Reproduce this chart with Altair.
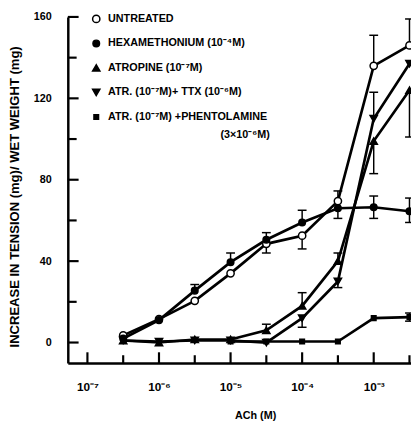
import altair as alt
import pandas as pd

# ---- data ----
conc = [3.16e-7, 1e-6, 3.16e-6, 1e-5, 3.16e-5, 1e-4, 3.16e-4, 1e-3, 3.16e-3]
untreated = [3.5, 11.5, 20.5, 34, 48.5, 52.5, 69.5, 136, 146]
hexamethonium = [2, 11, 25.5, 39.5, 50.5, 59, 66, 66.5, 64.5]
atropine = [1, 0, 1.5, 1.5, 6, 18, 40, 99, 124]
atr_ttx = [1, 0.5, 1, 1, 0, 12, 30, 110, 137]
atr_phent = [None, None, None, 0.5, 0.5, 0.5, 0.5, 12, 12.5]

series_keys = ["untreated", "hexa", "atropine", "ttx", "phent"]
series_vals = [untreated, hexamethonium, atropine, atr_ttx, atr_phent]
legend_labels = [
    "UNTREATED",
    "HEXAMETHONIUM (10\u207b\u2074M)",
    "ATROPINE (10\u207b\u2077M)",
    "ATR. (10\u207b\u2077M)+ TTX (10\u207b\u2076M)",
    "ATR. (10\u207b\u2077M) +PHENTOLAMINE",
]
legend_line2 = "(3\u00d710\u207b\u2076M)"
shapes = ["circle", "circle", "triangle-up", "triangle-down", "square"]
fills = ["white", "black", "black", "black", "black"]
sizes = [55, 45, 55, 55, 22]

err_series = ["untreated"] * 5 + ["hexa"] * 7 + ["atropine"] * 5 + ["ttx"] * 3 + ["phent"]
err_conc = [3.16e-5, 1e-4, 3.16e-4, 1e-3, 3.16e-3,
            3.16e-6, 1e-5, 3.16e-5, 1e-4, 3.16e-4, 1e-3, 3.16e-3,
            3.16e-5, 1e-4, 3.16e-4, 1e-3, 3.16e-3,
            1e-4, 3.16e-4, 1e-3,
            3.16e-3]
err_lo = [44, 46, 69.5, 136, 146,
          25.5, 39.5, 50.5, 59, 61, 61, 59,
          6, 18, 40, 83, 101,
          7.5, 27, 110,
          10.5]
err_hi = [48.5, 52.5, 74.5, 151, 159,
          28.5, 44, 54, 65, 66, 72, 71,
          9, 24.5, 44, 99, 124,
          12, 30, 123,
          14.5]

y_ticks = [0, 20, 40, 60, 80, 100, 120, 140, 160]
y_labels = [0, 40, 80, 120, 160]
x_ticks = [1e-7, 3.16e-7, 1e-6, 3.16e-6, 1e-5, 3.16e-5, 1e-4, 3.16e-4, 1e-3, 3.16e-3]
x_label_vals = [1e-7, 1e-6, 1e-5, 1e-4, 1e-3]
x_label_text = ["10\u207b\u2077", "10\u207b\u2076", "10\u207b\u2075", "10\u207b\u2074", "10\u207b\u00b3"]

W, H = 350, 353
FONT = "Liberation Sans"
X_LO, X_HI = 10 ** -7.274, 10 ** -2.479
Y_LO, Y_HI = -10.1, 160

rows = []
for key, vals in zip(series_keys, series_vals):
    for c, v in zip(conc, vals):
        if v is not None:
            rows.append({"series": key, "conc": c, "val": v})
df = pd.DataFrame(rows)

val_lookup = {(r["series"], r["conc"]): r["val"] for r in rows}
seg_rows, cap_rows = [], []
for s, c, lo, hi in zip(err_series, err_conc, err_lo, err_hi):
    seg_rows.append({"conc": c, "lo": lo, "hi": hi})
    v = val_lookup.get((s, c))
    if v is None or hi > v + 0.5:
        cap_rows.append({"conc": c, "y": hi})
    if v is None or lo < v - 0.5:
        cap_rows.append({"conc": c, "y": lo})
seg_df = pd.DataFrame(seg_rows)
cap_df = pd.DataFrame(cap_rows)

xmaj = pd.DataFrame({"c": [c for c in x_ticks if c in x_label_vals]})
xmin = pd.DataFrame({"c": [c for c in x_ticks if c not in x_label_vals]})
ymaj = pd.DataFrame({"v": [v for v in y_ticks if v in y_labels]})
ymin = pd.DataFrame({"v": [v for v in y_ticks if v not in y_labels]})

label_expr = "".join(
    f"datum.value < {v * 3:.3g} ? '{t}' : " for v, t in zip(x_label_vals, x_label_text)
) + "''"

xscale = alt.Scale(type="log", domain=[X_LO, X_HI], nice=False)
yscale = alt.Scale(domain=[Y_LO, Y_HI], nice=False, zero=False)

X = alt.X("conc:Q", scale=xscale,
          axis=alt.Axis(values=x_label_vals, labelExpr=label_expr, ticks=False,
                        grid=False, labelPadding=19, labelFont=FONT, labelFontWeight="bold",
                        labelFontSize=12, labelColor="black", labelFlush=False,
                        domainColor="black", domainWidth=2.5,
                        title="ACh (M)", titleFont=FONT, titleFontWeight="bold",
                        titleFontSize=11, titleColor="black", titleX=191, titleY=54,
                        titleBaseline="middle"))
Y = alt.Y("val:Q", scale=yscale,
          axis=alt.Axis(values=y_labels, ticks=False, grid=False,
                        labelPadding=17, labelFont=FONT, labelFontWeight="bold",
                        labelFontSize=11, labelColor="black", labelFlush=False,
                        domainColor="black", domainWidth=2.5,
                        title="INCREASE IN TENSION (mg)/ WET WEIGHT (mg)",
                        titleFont=FONT, titleFontWeight="bold", titleFontSize=13.3,
                        titleColor="black", titleX=-54, titleY=183, titleAngle=-90,
                        titleBaseline="middle", titleAlign="center"))

TICK_COLOR = "black"

def xtick_layer(d, n):
    return alt.Chart(d).mark_rule(color=TICK_COLOR, strokeWidth=2.2).encode(
        x=alt.X("c:Q", scale=xscale), y=alt.value(H), y2=alt.value(H - n))

def ytick_layer(d, n):
    return alt.Chart(d).mark_rule(color=TICK_COLOR, strokeWidth=2.2).encode(
        y=alt.Y("v:Q", scale=yscale), x=alt.value(0), x2=alt.value(n))

tick_layers = [xtick_layer(xmaj, 11), xtick_layer(xmin, 8),
               ytick_layer(ymaj, 11), ytick_layer(ymin, 9)]

lines = alt.Chart(df).mark_line(color="black", strokeWidth=2.7).encode(
    x=X, y=Y, detail="series:N")
segs = alt.Chart(seg_df).mark_rule(color="black", strokeWidth=1.5).encode(
    x=alt.X("conc:Q", scale=xscale), y=alt.Y("lo:Q", scale=yscale), y2="hi:Q")
caps = alt.Chart(cap_df).mark_tick(color="black", orient="horizontal", size=9,
                                   thickness=1.5, opacity=1).encode(
    x=alt.X("conc:Q", scale=xscale), y=alt.Y("y:Q", scale=yscale))

point_layers = []
for key, shp, fl, sz in zip(series_keys, shapes, fills, sizes):
    point_layers.append(
        alt.Chart(df[df.series == key]).mark_point(
            shape=shp, filled=True, fill=fl, stroke="black", strokeWidth=1.5,
            size=sz, opacity=1).encode(x=alt.X("conc:Q", scale=xscale),
                                       y=alt.Y("val:Q", scale=yscale)))

leg_y = [2, 27, 52, 77, 102]
legend_layers = []
for lbl, shp, fl, sz, ly in zip(legend_labels, shapes, fills, sizes, leg_y):
    ldf = pd.DataFrame({"label": [lbl]})
    legend_layers.append(alt.Chart(ldf).mark_point(
        shape=shp, filled=True, fill=fl, stroke="black", strokeWidth=1.5, size=sz,
        opacity=1).encode(x=alt.value(29), y=alt.value(ly)))
    legend_layers.append(alt.Chart(ldf).mark_text(
        align="left", baseline="middle", font=FONT, fontWeight="bold", fontSize=11,
        color="black").encode(x=alt.value(41), y=alt.value(ly), text="label:N"))
legend_layers.append(alt.Chart(pd.DataFrame({"label": [legend_line2]})).mark_text(
    align="right", baseline="middle", font=FONT, fontWeight="bold", fontSize=11,
    color="black").encode(x=alt.value(206), y=alt.value(120), text="label:N"))

chart = alt.layer(lines, *tick_layers, segs, caps,
                  *point_layers, *legend_layers).properties(
    width=W, height=H,
    autosize=alt.AutoSizeParams(type="none"),
    padding={"left": 61, "top": 5, "right": 0, "bottom": 58},
    background="white",
).configure_view(stroke=None)

chart.save("out.html", embed_options={"renderer": "svg", "actions": False})
